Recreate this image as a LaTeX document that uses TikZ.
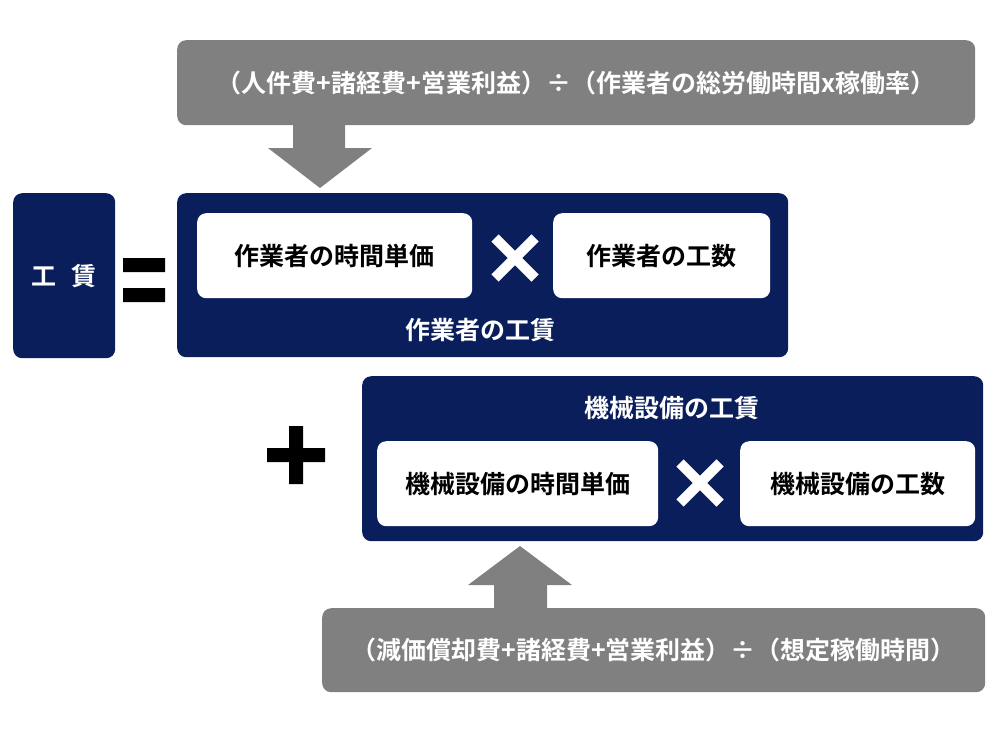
\documentclass[tikz,border=0pt]{standalone}
\usepackage{fontspec}
\setmainfont{Noto Sans CJK JP}[BoldFont={* Bold}]
\usetikzlibrary{positioning, shapes.geometric, calc}
\definecolor{navy}{RGB}{10,30,92}
\definecolor{boxgray}{RGB}{128,128,128}
\tikzset{
  box/.style={anchor=north west, inner sep=0pt, rounded corners=9pt, font=\fontsize{25}{30}\selectfont\bfseries},
  navybox/.style={box, fill=navy, text=white},
  graybox/.style={box, fill=boxgray, text=white},
  whitebox/.style={box, fill=white, text=black}
}
\begin{document}
\begin{tikzpicture}[x=1pt, y=-1pt]
\useasboundingbox (0,0) rectangle (1000,750);
% formula boxes
\node[graybox, minimum width=798, minimum height=85] (labour) at (177,40) {（人件費+諸経費+営業利益）÷（作業者の総労働時間x稼働率）};
\node[graybox, minimum width=663, minimum height=84] (machine) at (322,608) {（減価償却費+諸経費+営業利益）÷（想定稼働時間）};

% left side
\node[navybox, minimum width=102, minimum height=165] (wage) at (13,193) {工\hspace{0.6em}賃};
\fill (123,258) rectangle (165,272) (123,288) rectangle (165,302);

% worker block
\node[navybox, minimum width=611, minimum height=164] (worker) at (177,193) {};
\node[whitebox, minimum width=275, minimum height=85] (wrate) at (197,213) {作業者の時間単価};
\node[whitebox, minimum width=217, minimum height=85] (whours) at (553,213) {作業者の工数};
\node[font=\fontsize{25}{30}\selectfont\bfseries, text=white] (wlabel) at (480,330) {作業者の工賃};

% machine block
\node[navybox, minimum width=621, minimum height=165] (equip) at (362,376) {};
\node[font=\fontsize{25}{30}\selectfont\bfseries, text=white] (elabel) at (672,408) {機械設備の工賃};
\node[whitebox, minimum width=281, minimum height=85] (erate) at (377,441) {機械設備の時間単価};
\node[whitebox, minimum width=235, minimum height=85] (ehours) at (740,441) {機械設備の工数};

% plus
\fill (267,448) rectangle (325,462) (289,426) rectangle (303,484);

% times marks
\foreach \n/\cx/\cy in {wx/515/258, ex/700/483} {
  \coordinate (\n) at (\cx,\cy);
  \draw[line width=10pt, black!60, shift={(3,3)}] ($(\n)+(-20,-20)$) -- ($(\n)+(20,20)$) ($(\n)+(20,-20)$) -- ($(\n)+(-20,20)$);
  \draw[line width=10pt, white] ($(\n)+(-20,-20)$) -- ($(\n)+(20,20)$) ($(\n)+(20,-20)$) -- ($(\n)+(-20,20)$);
}

% arrows
\fill[boxgray] (293,125) -- (345,125) -- (345,148) -- (372,148) -- (320,188) -- (268,148) -- (293,148) -- cycle;
\fill[boxgray] (494,608) -- (547,608) -- (547,585) -- (572,585) -- (520,546) -- (468,585) -- (494,585) -- cycle;
\end{tikzpicture}
\end{document}
